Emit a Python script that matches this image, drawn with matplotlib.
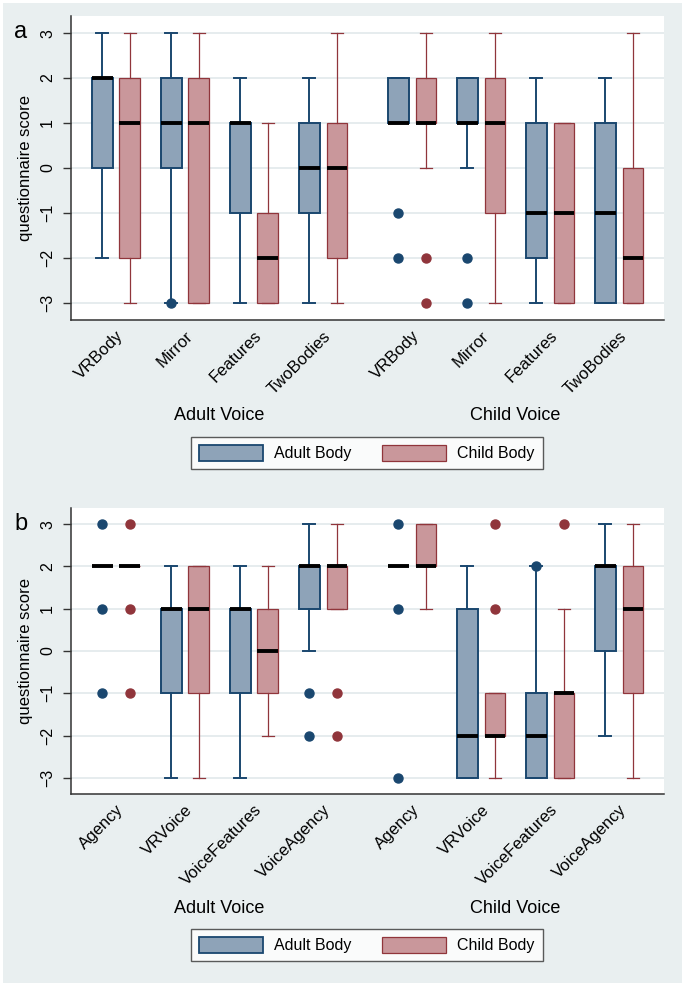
import matplotlib
matplotlib.use('Agg')
import matplotlib.pyplot as plt
from matplotlib.patches import Rectangle, Patch
from matplotlib.transforms import blended_transform_factory
import numpy as np

plt.rcParams['font.family'] = ['Liberation Sans', 'DejaVu Sans']

# ---------------- data ----------------
groups = ['Adult Voice', 'Child Voice']
bodies = ['Adult Body', 'Child Body']

a_labels = ['VRBody', 'Mirror', 'Features', 'TwoBodies']
# order: Adult Voice x4, Child Voice x4
a_adult_med = [2, 1, 1, 0, 1, 1, -1, -1]
a_adult_q1 = [0, 0, -1, -1, 1, 1, -2, -3]
a_adult_q3 = [2, 2, 1, 1, 2, 2, 1, 1]
a_adult_lo = [-2, -3, -3, -3, 1, 0, -3, -3]
a_adult_hi = [3, 3, 2, 2, 2, 2, 2, 2]
a_adult_out = [[], [-3], [], [], [-1, -2], [-2, -3], [], []]

a_child_med = [1, 1, -2, 0, 1, 1, -1, -2]
a_child_q1 = [-2, -3, -3, -2, 1, -1, -3, -3]
a_child_q3 = [2, 2, -1, 1, 2, 2, 1, 0]
a_child_lo = [-3, -3, -3, -3, 0, -3, -3, -3]
a_child_hi = [3, 3, 1, 3, 3, 3, 1, 3]
a_child_out = [[], [], [], [], [-2, -3], [], [], []]

b_labels = ['Agency', 'VRVoice', 'VoiceFeatures', 'VoiceAgency']
b_adult_med = [2, 1, 1, 2, 2, -2, -2, 2]
b_adult_q1 = [2, -1, -1, 1, 2, -3, -3, 0]
b_adult_q3 = [2, 1, 1, 2, 2, 1, -1, 2]
b_adult_lo = [2, -3, -3, 0, 2, -3, -3, -2]
b_adult_hi = [2, 2, 2, 3, 2, 2, 2, 3]
b_adult_out = [[3, 1, -1], [], [], [-1, -2], [3, 1, -3], [], [2], []]

b_child_med = [2, 1, 0, 2, 2, -2, -1, 1]
b_child_q1 = [2, -1, -1, 1, 2, -2, -3, -1]
b_child_q3 = [2, 2, 1, 2, 3, -1, -1, 2]
b_child_lo = [2, -3, -2, 1, 1, -3, -3, -3]
b_child_hi = [2, 2, 2, 3, 3, -1, 1, 3]
b_child_out = [[3, 1, -1], [], [], [-1, -2], [], [3, 1], [3], []]

# ---------------- style ----------------
BG = '#e9eff0'
GRID = '#e4ebed'
BLUE_FACE, BLUE_EDGE = '#8ea3b8', '#1a476f'
RED_FACE, RED_EDGE = '#c9979b', '#90353b'

W, H = 685, 988
fig = plt.figure(figsize=(W / 100, H / 100), dpi=100)
fig.patches.append(Rectangle((3 / W, 1 - 983 / H), 679 / W, 980 / H,
                             transform=fig.transFigure, facecolor=BG,
                             edgecolor='none', zorder=-10))


def make_stats(med, q1, q3, lo, hi, out):
    return [dict(med=m, q1=a, q3=b, whislo=l, whishi=h, fliers=f)
            for m, a, b, l, h, f in zip(med, q1, q3, lo, hi, out)]


def panel(rect, letter, labels, adult, child, label_y, legend_y):
    ax = fig.add_axes(rect)
    ax.set_facecolor('white')
    pos = np.array([i + 4.29 * g for g in range(2) for i in range(4)])

    for stats, off, face, edge, lw in [(adult, -0.2, BLUE_FACE, BLUE_EDGE, 1.4),
                                       (child, 0.2, RED_FACE, RED_EDGE, 0.9)]:
        ax.bxp(stats, positions=pos + off, widths=0.30, capwidths=0.17,
               patch_artist=True, manage_ticks=False,
               boxprops=dict(facecolor=face, edgecolor=edge, linewidth=lw),
               whiskerprops=dict(color=edge, linewidth=lw),
               capprops=dict(color=edge, linewidth=lw),
               medianprops=dict(color='black', linewidth=2.8, solid_capstyle='butt'),
               flierprops=dict(marker='o', markersize=6.5, markerfacecolor=edge,
                               markeredgecolor=edge))

    ax.set_xlim(-0.652, 7.94)
    ax.set_ylim(-3.38, 3.38)
    ax.set_yticks(range(-3, 4))
    ax.yaxis.grid(True, color=GRID, linewidth=1.3)
    ax.set_axisbelow(True)
    for s in ['top', 'right']:
        ax.spines[s].set_visible(False)
    for s in ['left', 'bottom']:
        ax.spines[s].set_color('#333333')
        ax.spines[s].set_linewidth(1.1)
    ax.tick_params(axis='y', length=5.5, width=1, color='#333333',
                   labelsize=11.5, pad=6)
    for t in ax.get_yticklabels():
        t.set_rotation(90)
        t.set_va('center')
    ax.set_xticks(pos)
    ax.set_xticklabels(labels * 2, rotation=45, ha='right',
                       rotation_mode='anchor', fontsize=12)
    ax.tick_params(axis='x', length=0, pad=6)
    ax.set_ylabel('questionnaire score', fontsize=12)
    ax.yaxis.set_label_coords(-0.064, 0.5)

    tr = blended_transform_factory(ax.transData, fig.transFigure)
    for g, name in enumerate(groups):
        ax.text(pos[4 * g:4 * g + 4].mean(), label_y, name, transform=tr,
                ha='center', va='center', fontsize=13)

    fig.text(21 / W, rect[1] + rect[3] - 16 / H, letter, fontsize=17,
             ha='center', va='center')

    handles = [Patch(facecolor=BLUE_FACE, edgecolor=BLUE_EDGE, linewidth=1.3),
               Patch(facecolor=RED_FACE, edgecolor=RED_EDGE, linewidth=0.9)]
    leg = fig.legend(handles, bodies, loc='center',
                     bbox_to_anchor=(367 / W, legend_y), ncol=2,
                     fontsize=11.5, frameon=True, fancybox=False,
                     handlelength=4.0, handleheight=1.15, handletextpad=0.7,
                     columnspacing=1.9, borderpad=0.5)
    leg.get_frame().set_edgecolor('#333333')
    leg.get_frame().set_linewidth(1.0)
    return ax


panel([71 / W, 1 - 320 / H, 593 / W, 304 / H], 'a', a_labels,
      make_stats(a_adult_med, a_adult_q1, a_adult_q3, a_adult_lo, a_adult_hi, a_adult_out),
      make_stats(a_child_med, a_child_q1, a_child_q3, a_child_lo, a_child_hi, a_child_out),
      1 - 416 / H, 1 - 453 / H)

panel([71 / W, 1 - 794 / H, 593 / W, 286 / H], 'b', b_labels,
      make_stats(b_adult_med, b_adult_q1, b_adult_q3, b_adult_lo, b_adult_hi, b_adult_out),
      make_stats(b_child_med, b_child_q1, b_child_q3, b_child_lo, b_child_hi, b_child_out),
      1 - 908 / H, 1 - 945 / H)

fig.savefig('out.png', dpi=100)
